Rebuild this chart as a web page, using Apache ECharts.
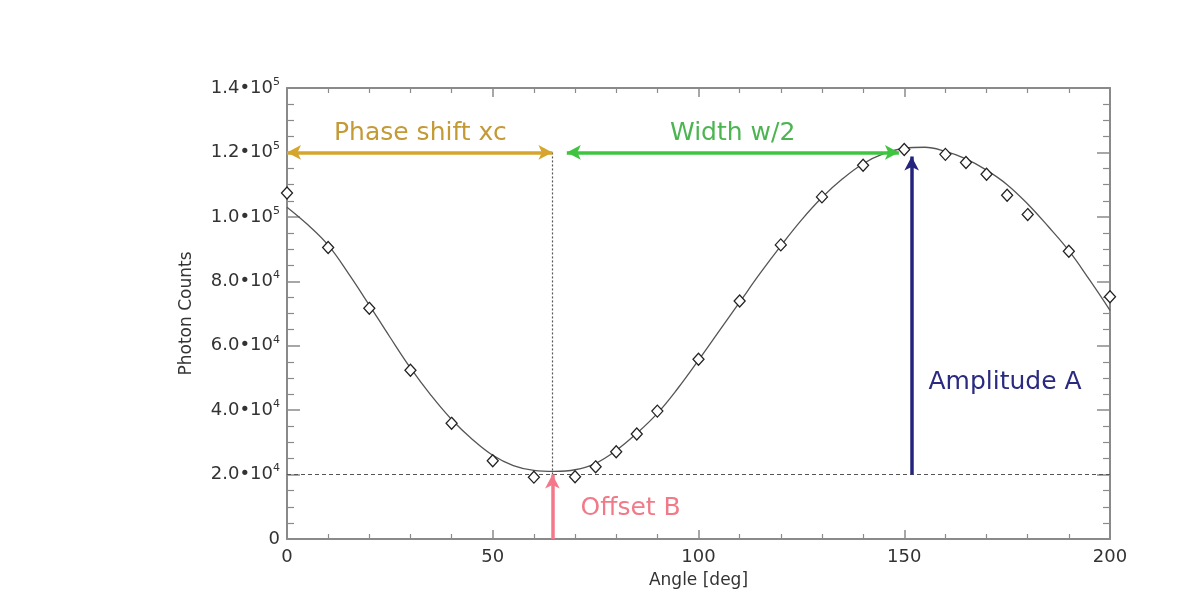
<!DOCTYPE html>
<html>
<head>
<meta charset="utf-8">
<script src="https://cdn.jsdelivr.net/npm/echarts@6/dist/echarts.min.js"></script>
<style>html,body{margin:0;padding:0;background:#fff;}#c{width:1190px;height:606px;}</style>
</head>
<body>
<div id="c"></div>
<script>
// measured data points (angle in deg, photon counts)
const pointAngles = [0,10,20,30,40,50,60,70,75,80,85,90,100,110,120,130,140,150,160,165,170,175,180,190,200];
const pointCounts = [107400,90500,71600,52400,35900,24300,19200,19300,22400,27100,32600,39700,55800,73900,91300,106200,116000,120900,119400,116900,113200,106700,100700,89300,75200];
// fitted curve
const curveAngles = [0,5,10,15,20,25,30,35,40,45,50,55,60,65,70,75,80,85,90,95,100,105,110,115,120,125,130,135,140,145,150,155,160,165,170,175,180,185,190,195,200];
const curveCounts = [103000,97600,91200,82300,72600,62700,53100,44600,37100,31000,26000,22800,21300,21000,21500,23500,27500,32800,39000,46800,55500,64500,73500,82500,91000,99000,106000,111800,116500,119600,121300,121600,120300,118000,114500,110000,104000,97000,89500,80500,71000];
// fit parameters / annotation anchors
const offsetB = 20000;
const phaseXc = 64.5;
const levelY = 120000;
const widthEnd = 148.7;
const widthStart = 68;
const peakX = 151.8;
const peakTop = 118700;
const annotTexts = ['Phase shift xc','Width w/2','Offset B','Amplitude A'];
const annotX = [32.4, 108.3, 83.5, 174.5];
const annotY = [126000, 126000, 9600, 48700];
const annotColors = ['#c49a36','#4cb552','#f27a88','#2a2a80'];
const xTicks = {min:0, max:200, interval:50};
const yTicks = {min:0, max:140000, interval:20000};

const chart = echarts.init(document.getElementById('c'));
const axisGray = '#8a8a8a';
const font = 'DejaVu Sans, Arial, sans-serif';

function yLabel(v){
  if (v === 0) return '{m|0}';
  const e = Math.floor(Math.log10(v) + 1e-9);
  const m = (v / Math.pow(10, e)).toFixed(1);
  return '{m|' + m + '\u202210}{e|' + e + '}';
}

const xCommon = {
  type:'value', min:xTicks.min, max:xTicks.max, interval:xTicks.interval,
  splitLine:{show:false},
  axisLine:{show:true, onZero:false, lineStyle:{color:axisGray, width:2}},
  axisTick:{show:true, inside:true, length:9, lineStyle:{color:axisGray, width:1.5}},
  minorTick:{show:true, splitNumber:5, length:5, lineStyle:{color:axisGray, width:1.2}}
};
const yCommon = {
  type:'value', min:yTicks.min, max:yTicks.max, interval:yTicks.interval,
  splitLine:{show:false},
  axisLine:{show:true, onZero:false, lineStyle:{color:axisGray, width:2}},
  axisTick:{show:true, inside:true, length:13, lineStyle:{color:axisGray, width:1.5}},
  minorTick:{show:true, splitNumber:4, length:7, lineStyle:{color:axisGray, width:1.2}}
};

const arrowSeries = {
  type:'line', data:[], xAxisIndex:0, yAxisIndex:0, silent:true, z:5,
  markLine:{
    silent:true, animation:false, symbolSize:[11,14], label:{show:false},
    data:[
      [{coord:[xTicks.min, offsetB], symbol:'none', lineStyle:{color:'#555', width:1, type:[4,3]}},
       {coord:[xTicks.max, offsetB], symbol:'none'}],
      [{coord:[phaseXc, levelY], symbol:'none', lineStyle:{color:'#555', width:1.2, type:[2,2]}},
       {coord:[phaseXc, offsetB], symbol:'none'}],
      [{coord:[xTicks.min, levelY], symbol:'arrow', lineStyle:{color:'#d6a52e', width:3.5, type:'solid'}},
       {coord:[phaseXc, levelY], symbol:'arrow'}],
      [{coord:[widthStart, levelY], symbol:'arrow', lineStyle:{color:'#3fc43f', width:3.5, type:'solid'}},
       {coord:[widthEnd, levelY], symbol:'arrow'}],
      [{coord:[phaseXc, 0], symbol:'none', lineStyle:{color:'#f4788a', width:3.5, type:'solid'}},
       {coord:[phaseXc, offsetB], symbol:'arrow'}],
      [{coord:[peakX, offsetB], symbol:'none', lineStyle:{color:'#24247e', width:3.5, type:'solid'}},
       {coord:[peakX, peakTop], symbol:'arrow'}]
    ]
  }
};

chart.setOption({
  animation:false,
  backgroundColor:'#fff',
  textStyle:{fontFamily:font},
  grid:{left:287, right:80, top:88, bottom:67, containLabel:false},
  xAxis:[
    Object.assign({}, xCommon, {position:'bottom',
      axisLabel:{show:true, color:'#333', fontSize:18, margin:9, fontFamily:font},
      name:'Angle [deg]', nameLocation:'middle', nameGap:33,
      nameTextStyle:{color:'#333', fontSize:17, fontFamily:font}}),
    Object.assign({}, xCommon, {position:'top', axisLabel:{show:false}})
  ],
  yAxis:[
    Object.assign({}, yCommon, {position:'left',
      axisLabel:{show:true, margin:7, formatter:yLabel, color:'#333',
        rich:{m:{fontSize:18, color:'#333', fontFamily:font},
              e:{fontSize:11, color:'#333', fontFamily:font, padding:[0,0,12,0]}}},
      name:'Photon Counts', nameLocation:'middle', nameRotate:90, nameGap:92,
      nameTextStyle:{color:'#333', fontSize:17, fontFamily:font}}),
    Object.assign({}, yCommon, {position:'right', axisLabel:{show:false}})
  ],
  series:[
    {type:'line', name:'fit', xAxisIndex:0, yAxisIndex:0, smooth:0.4, showSymbol:false, z:3,
     lineStyle:{color:'#555', width:1.3},
     data:curveAngles.map((a,i)=>[a, curveCounts[i]])},
    arrowSeries,
    {type:'scatter', name:'data', xAxisIndex:0, yAxisIndex:0, symbol:'diamond', symbolSize:[11,12], z:6,
     itemStyle:{color:'#fff', borderColor:'#222', borderWidth:1.3, opacity:1},
     data:pointAngles.map((a,i)=>[a, pointCounts[i]])},
    {type:'scatter', name:'labels', xAxisIndex:0, yAxisIndex:0, symbolSize:0, z:7, silent:true,
     itemStyle:{opacity:1},
     data:annotTexts.map((t,i)=>({value:[annotX[i], annotY[i]],
       label:{show:true, position:'inside', formatter:t, color:annotColors[i], fontSize:25, fontFamily:font, opacity:1}}))}
  ]
});
</script>
</body>
</html>
